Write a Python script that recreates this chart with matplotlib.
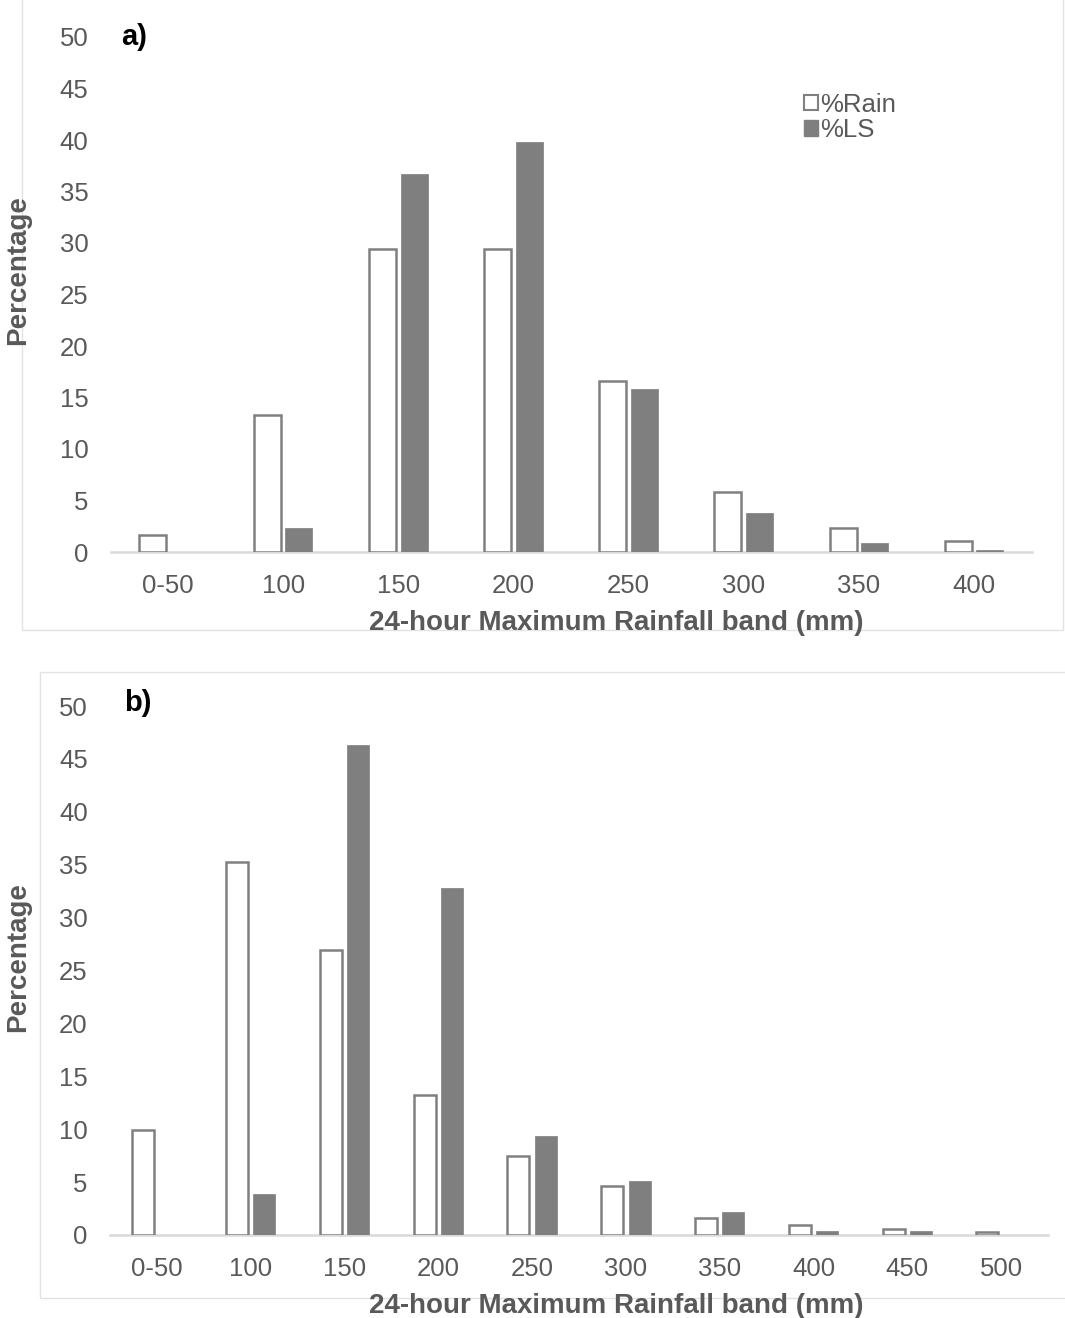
import numpy as np
import matplotlib
matplotlib.use("Agg")
import matplotlib.pyplot as plt
from matplotlib.patches import Rectangle, Patch

plt.rcParams['font.family'] = ['Liberation Sans', 'DejaVu Sans']

# Panel a) data
bands_a = ["0-50", "100", "150", "200", "250", "300", "350", "400"]
rain_a = [1.65, 13.3, 29.4, 29.4, 16.6, 5.85, 2.3, 1.07]
ls_a = [0.0, 2.3, 36.7, 39.8, 15.8, 3.8, 0.87, 0.22]

# Panel b) data
bands_b = ["0-50", "100", "150", "200", "250", "300", "350", "400", "450", "500"]
rain_b = [9.9, 35.3, 26.9, 13.2, 7.5, 4.6, 1.6, 0.95, 0.55, 0.3]
ls_b = [0.0, 3.9, 46.3, 32.8, 9.4, 5.1, 2.2, 0.4, 0.4, 0.0]

yticks = [0, 5, 10, 15, 20, 25, 30, 35, 40, 45, 50]

W, H = 1065, 1318
fig = plt.figure(figsize=(W / 100, H / 100), dpi=100)

TXT = '#595959'
EDGE = '#808080'
FILL = '#7f7f7f'
AXLINE = '#d9d9d9'


def px_axes(x0, x1, y_top, y_bot):
    return [x0 / W, (H - y_bot) / H, (x1 - x0) / W, (y_bot - y_top) / H]


def panel(rect, bands, rain, ls, off, tag, tag_xy, xlab_xy, ylab_xy, legend=False):
    ax = fig.add_axes(rect)
    x = np.arange(len(bands))
    w = 0.235
    ax.bar(x - off, rain, width=w, facecolor='white', edgecolor=EDGE,
           linewidth=1.8, label='%Rain', zorder=3)
    ax.bar(x + off, ls, width=w, facecolor=FILL, edgecolor=FILL,
           linewidth=0.5, label='%LS', zorder=3)
    ax.set_xlim(-0.5, len(bands) - 0.5)
    ax.set_ylim(0, 50)
    ax.set_yticks(yticks)
    ax.set_xticks(x)
    ax.set_xticklabels(bands)
    for s in ['top', 'right', 'left']:
        ax.spines[s].set_visible(False)
    ax.spines['bottom'].set_color(AXLINE)
    ax.spines['bottom'].set_linewidth(1.8)
    ax.spines['bottom'].set_zorder(2)
    ax.tick_params(axis='both', length=0, colors=TXT, labelsize=18.5)
    ax.tick_params(axis='y', pad=16)
    ax.tick_params(axis='x', pad=15.5)
    ax.set_facecolor('none')
    ax.set_xlabel('24-hour Maximum Rainfall band (mm)', fontsize=20,
                  fontweight='bold', color=TXT, va='center')
    ax.xaxis.set_label_coords(*xlab_xy)
    ax.set_ylabel('Percentage', fontsize=20, fontweight='bold', color=TXT,
                  va='center')
    ax.yaxis.set_label_coords(*ylab_xy)
    ax.text(tag_xy[0], tag_xy[1], tag, transform=ax.transAxes, fontsize=21,
            fontweight='bold', color='black', va='center', ha='left')
    if legend:
        handles = [Patch(facecolor='white', edgecolor=EDGE, linewidth=1.5, label='%Rain'),
                   Patch(facecolor=FILL, edgecolor=FILL, label='%LS')]
        ax.legend(handles=handles, loc='upper left', bbox_to_anchor=(0.739, 0.917),
                  frameon=False, fontsize=18.5, handlelength=0.55, handleheight=0.55,
                  handletextpad=0.08, labelspacing=0.05, borderpad=0,
                  labelcolor=TXT)
    return ax


# Chart area frames
fig.patches.append(Rectangle((22 / W, (H - 630) / H), (1063 - 22) / W, 640 / H,
                             transform=fig.transFigure, facecolor='none',
                             edgecolor='#e3e3e3', linewidth=1.0, zorder=-1))
fig.patches.append(Rectangle((40 / W, (H - 1298) / H), (1070 - 40) / W, (1298 - 672) / H,
                             transform=fig.transFigure, facecolor='none',
                             edgecolor='#e3e3e3', linewidth=1.0, zorder=-1))

panel(px_axes(110.5, 1031.5, 37, 552), bands_a, rain_a, ls_a, 0.137, 'a)',
      (0.011, 1.0), (0.549, -0.137), (-0.100, 0.548), legend=True)
panel(px_axes(110, 1048, 706, 1235), bands_b, rain_b, ls_b, 0.146, 'b)',
      (0.015, 1.006), (0.540, -0.135), (-0.098, 0.526))

fig.savefig('out.png', dpi=100, facecolor='white')
